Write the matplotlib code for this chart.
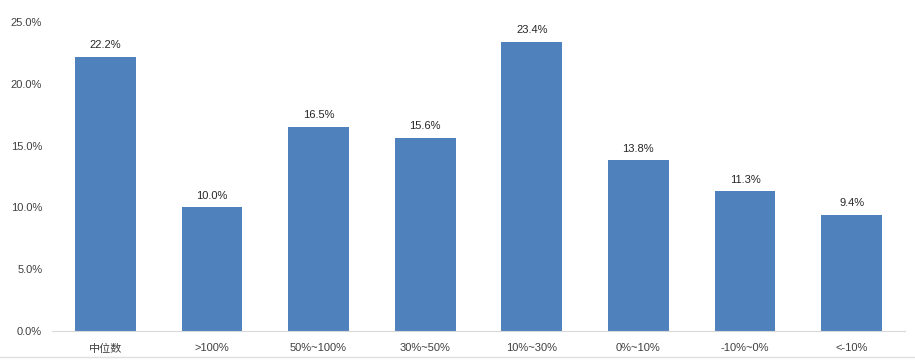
import matplotlib
matplotlib.use("Agg")
import matplotlib.pyplot as plt
from matplotlib.ticker import FuncFormatter

plt.rcParams['font.family'] = ['Liberation Sans', 'Noto Sans CJK SC', 'DejaVu Sans']

categories = ["中位数", ">100%", "50%~100%", "30%~50%", "10%~30%", "0%~10%", "-10%~0%", "<-10%"]
values = [22.2, 10.0, 16.5, 15.6, 23.4, 13.8, 11.3, 9.4]

fig = plt.figure(figsize=(9.15, 3.6), dpi=100)
ax = fig.add_axes([0.0568, 0.0806, 0.9322, 0.8584])
x = range(len(categories))
bars = ax.bar(x, values, width=0.57, color="#4F81BD", zorder=2)
for xi, v in zip(x, values):
    ax.text(xi, v + 0.55, f"{v:.1f}%", ha="center", va="bottom", fontsize=8, color="#262626")

ax.set_xlim(-0.5, len(categories) - 0.5)
ax.set_ylim(0, 25)
ax.set_yticks([0, 5, 10, 15, 20, 25])
ax.yaxis.set_major_formatter(FuncFormatter(lambda v, p: f"{v:.1f}%"))
ax.set_xticks(list(x))
ax.set_xticklabels(categories)
ax.tick_params(axis="both", length=0, labelsize=8, labelcolor="#404040")
ax.tick_params(axis="y", pad=7)
ax.tick_params(axis="x", pad=9)
for s in ["top", "right", "left"]:
    ax.spines[s].set_visible(False)
ax.spines["bottom"].set_color("#D9D9D9")
fig.add_artist(plt.Line2D([0, 1], [0.008, 0.008], transform=fig.transFigure, color="#E0E0E0", lw=1))
fig.savefig("out.png", dpi=100)
